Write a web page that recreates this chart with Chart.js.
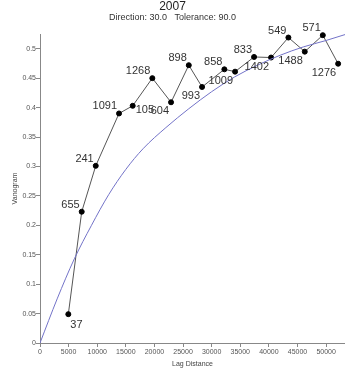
<html>
<head>
<meta charset="UTF-8">
<script src="https://cdn.jsdelivr.net/npm/chart.js@4/dist/chart.umd.min.js"></script>
<style>
body { margin: 0; background: #fff; }
</style>
</head>
<body>
<canvas id="vario" width="345" height="378"></canvas>

<script>
// experimental variogram, one point per lag bin
var lagDistance = [4950, 7290, 9740, 13810, 16200, 19630, 22900, 26000, 28320, 32220, 34090, 37410, 40380, 43410, 46270, 49420, 52100];
var semivariance = [0.049, 0.223, 0.301, 0.390, 0.403, 0.450, 0.409, 0.472, 0.435, 0.465, 0.461, 0.486, 0.485, 0.519, 0.495, 0.523, 0.4745];
var pairCounts = [37, 655, 241, 1091, 105, 1268, 604, 898, 993, 858, 1009, 833, 1402, 549, 1488, 571, 1276];

// fitted model curve
var modelLag = [0, 3000, 6000, 9000, 12000, 15000, 18000, 22000, 26000, 30000, 34000, 38000, 42000, 46000, 50000, 53300];
var modelValue = [0, 0.075, 0.143, 0.200, 0.252, 0.295, 0.330, 0.366, 0.398, 0.427, 0.452, 0.472, 0.489, 0.503, 0.514, 0.524];

var xTicks = [0, 5000, 10000, 15000, 20000, 25000, 30000, 35000, 40000, 45000, 50000];
var yTicks = [0, 0.05, 0.1, 0.15, 0.2, 0.25, 0.3, 0.35, 0.4, 0.45, 0.5];

var FONT = "'Liberation Sans', Arial, sans-serif";

// where each pair-count label sits next to its point
var labelSide = ['lr', 'ul', 'ul', 'ul', 'r', 'ul', 'll', 'ul', 'll', 'ul', 'll', 'ul', 'll', 'ul', 'll', 'ul', 'll'];

const pairLabels = {
	id: 'pairLabels',
	afterDatasetsDraw(chart) {
		const ctx = chart.ctx;
		const meta = chart.getDatasetMeta(1);
		ctx.save();
		ctx.font = '11px ' + FONT;
		ctx.fillStyle = '#333';
		ctx.textBaseline = 'alphabetic';
		meta.data.forEach(function(pt, i) {
			var txt = String(pairCounts[i]);
			var s = labelSide[i];
			var x = pt.x, y = pt.y;
			if (s == 'ul') { ctx.textAlign = 'right'; ctx.fillText(txt, x - 2, y - 4); }
			else if (s == 'll') { ctx.textAlign = 'right'; ctx.fillText(txt, x - 2, y + 12); }
			else if (s == 'lr') { ctx.textAlign = 'left'; ctx.fillText(txt, x + 2, y + 14); }
			else { ctx.textAlign = 'left'; ctx.fillText(txt, x + 3, y + 7); }
		});
		ctx.restore();
	}
};

const data = {
	datasets: [{
		label: 'model',
		data: modelLag.map(function(v, i) { return {x: v, y: modelValue[i]}; }),
		showLine: true,
		borderColor: 'rgb(115,115,200)',
		borderWidth: 1,
		pointRadius: 0,
		cubicInterpolationMode: 'monotone',
		fill: false
	}, {
		label: 'variogram',
		data: lagDistance.map(function(v, i) { return {x: v, y: semivariance[i]}; }),
		showLine: true,
		clip: false,
		borderColor: '#555',
		borderWidth: 1,
		pointRadius: 2.5,
		pointBackgroundColor: '#000',
		pointBorderColor: '#000',
		fill: false
	}]
};

const config = {
	type: 'scatter',
	data: data,
	plugins: [pairLabels],
	options: {
		responsive: false,
		animation: false,
		layout: { padding: 0, autoPadding: false },
		plugins: {
			legend: { display: false },
			tooltip: { enabled: false },
			title: {
				display: true,
				text: '2007',
				color: '#222',
				font: { family: FONT, size: 12, weight: 'normal', lineHeight: 1 },
				padding: { top: 1, bottom: 0 }
			},
			subtitle: {
				display: true,
				text: 'Direction: 30.0   Tolerance: 90.0',
				color: '#333',
				font: { family: FONT, size: 9, lineHeight: 1 },
				padding: { top: 0, bottom: 12 }
			}
		},
		scales: {
			x: {
				type: 'linear',
				min: 0,
				max: 53300,
				afterFit: function(s) { s.height = 35; s.paddingRight = 0; },
				afterBuildTicks: function(s) { s.ticks = xTicks.map(function(v) { return {value: v}; }); },
				ticks: {
					color: '#555',
					font: { family: FONT, size: 7 },
					padding: 1,
					maxRotation: 0,
					autoSkip: false,
					callback: function(v) { return String(v); }
				},
				grid: { drawOnChartArea: false, drawTicks: true, tickLength: 4, color: '#888' },
				border: { display: true, color: '#888' },
				title: {
					display: true,
					text: 'Lag Distance',
					color: '#444',
					font: { family: FONT, size: 7 },
					padding: { top: 0, bottom: 10 }
				}
			},
			y: {
				type: 'linear',
				min: 0,
				max: 0.525,
				afterFit: function(s) { s.width = 40; },
				afterBuildTicks: function(s) { s.ticks = yTicks.map(function(v) { return {value: v}; }); },
				ticks: {
					color: '#555',
					font: { family: FONT, size: 7 },
					padding: 0,
					autoSkip: false,
					callback: function(v) { return String(Math.round(v * 100) / 100); }
				},
				grid: { drawOnChartArea: false, drawTicks: true, tickLength: 4, color: '#888' },
				border: { display: true, color: '#888' },
				title: {
					display: true,
					text: 'Vanogram',
					color: '#444',
					font: { family: FONT, size: 7 },
					padding: { top: 11, bottom: 0 }
				}
			}
		}
	}
};

const chart = new Chart(document.getElementById('vario').getContext('2d'), config);
</script>
</body>
</html>
